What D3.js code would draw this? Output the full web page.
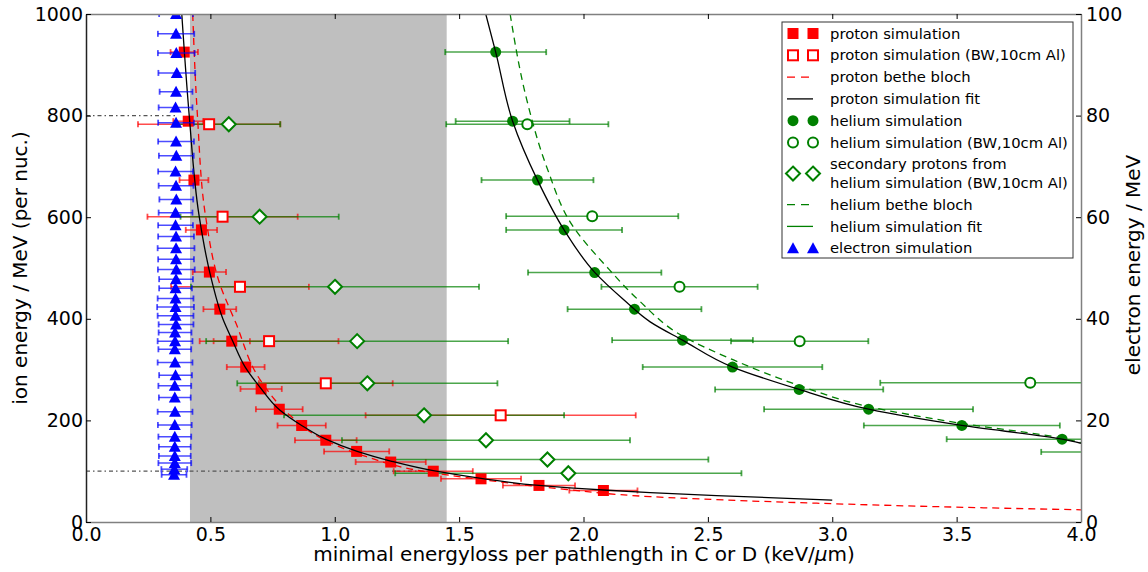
<!DOCTYPE html>
<html><head><meta charset="utf-8">
<script src="https://cdn.jsdelivr.net/npm/d3@7/dist/d3.min.js"></script>
<style>body{margin:0;background:#fff} text{font-family:"DejaVu Sans",sans-serif;fill:#000}</style>
</head><body>
<svg id="c" width="1148" height="572"></svg>
<script>
// ---------- data ----------
const xTicks = [0, 0.5, 1.0, 1.5, 2.0, 2.5, 3.0, 3.5, 4.0];
const yLeftTicks = [0, 200, 400, 600, 800, 1000];
const yRightTicks = [0, 20, 40, 60, 80, 100];
const xLabel = "minimal energyloss per pathlength in C or D (keV/";
const xLabelMu = "\u03bc";
const xLabelEnd = "m)";
const yLeftLabel = "ion energy / MeV (per nuc.)";
const yRightLabel = "electron energy / MeV";

const bandRange = [0.418, 1.45];
const guideE = [800, 100];
const guideEnd = [0.37, 1.39];

const protonE   = [925,789,673,575,492,419,356,305,262,222,190,161,139,118,100,85,72,62];
const protonX   = [0.395,0.411,0.434,0.464,0.496,0.538,0.586,0.642,0.704,0.777,0.867,0.964,1.088,1.225,1.396,1.588,1.821,2.080];
const protonErr = [0.055,0.060,0.058,0.063,0.067,0.066,0.073,0.076,0.083,0.094,0.097,0.124,0.131,0.141,0.159,0.161,0.145,0.137];

const protonBWE   = [783,601,463,356,273,210];
const protonBWX   = [0.495,0.549,0.619,0.736,0.964,1.667];
const protonBWErr = [0.286,0.302,0.277,0.279,0.269,0.543];

const secE   = [783,601,463,356,273,210,161,123,96];
const secX   = [0.574,0.698,1.001,1.090,1.131,1.359,1.608,1.855,1.939];
const secErr = [0.207,0.318,0.579,0.607,0.523,0.563,0.579,0.647,0.696];

const heliumE   = [925,789,673,575,491,419,358,305,261,222,190,163,138];
const heliumX   = [1.647,1.715,1.815,1.922,2.045,2.205,2.398,2.599,2.867,3.146,3.521,3.924,4.33];
const heliumErr = [0.203,0.229,0.225,0.233,0.268,0.269,0.283,0.361,0.338,0.420,0.394,0.464,0.49];

const heliumBWE   = [783,602,463,356,274];
const heliumBWX   = [1.774,2.035,2.386,2.869,3.796];
const heliumBWErr = [0.326,0.346,0.314,0.276,0.603];

const electronE = [100,96.1,92.3,88.4,84.7,81.6,78.6,74.9,72.1,69.0,66.2,63.5,60.9,58.4,56.2,53.9,51.7,49.7,47.8,46.0,44.0,42.3,40.6,38.9,37.3,35.6,34.0,31.4,28.9,26.8,24.5,21.7,19.1,16.8,14.8,13.0,11.6,10.4,9.3];
const electronX = [0.362,0.362,0.363,0.365,0.362,0.360,0.362,0.362,0.363,0.360,0.362,0.363,0.360,0.360,0.362,0.362,0.362,0.363,0.362,0.360,0.360,0.360,0.360,0.362,0.358,0.358,0.357,0.358,0.360,0.357,0.357,0.358,0.357,0.357,0.357,0.357,0.357,0.355,0.354];
const electronErr = [0.068,0.073,0.074,0.074,0.066,0.068,0.072,0.072,0.070,0.070,0.070,0.068,0.068,0.070,0.072,0.074,0.072,0.074,0.068,0.066,0.072,0.074,0.072,0.070,0.066,0.070,0.066,0.070,0.066,0.066,0.064,0.070,0.068,0.066,0.064,0.064,0.066,0.052,0.050];

const protonFitX = [0.385,0.415,0.454,0.505,0.55,0.59,0.64,0.70,0.78,0.867,0.964,1.09,1.225,1.396,1.588,1.821,2.08,2.268,2.535,3.0];
const protonFitE = [1000,800,605,476,400,356,305,265,220,190,163,139,120,101,86,72,63,58,52,43];

const protonBBX = [0.429,0.448,0.481,0.537,0.603,0.70,0.82,0.934,1.128,1.33,1.598,1.933,2.268,2.938,3.608,4.0];
const protonBBE = [1000,800,601,470,391,280,210,168,128.5,102,83,64,50,37,28,24];

const heliumBBX = [1.705,1.772,1.852,1.959,2.094,2.221,2.402,2.603,2.871,3.139,3.521,3.924,4.0];
const heliumBBE = [1000,831,699,581,502,437,365,319,268,228,194,165,156];

const heliumFitX = [1.607,1.647,1.715,1.815,1.922,2.045,2.163,2.268,2.398,2.599,2.867,3.146,3.521,3.924,4.0];
const heliumFitE = [1000,925,789,673,575,491.5,437,394,358,305,261,222,190,163,155];

const legendLabels = [
  ["proton simulation"],
  ["proton simulation (BW,10cm Al)"],
  ["proton bethe bloch"],
  ["proton simulation fit"],
  ["helium simulation"],
  ["helium simulation (BW,10cm Al)"],
  ["secondary protons from", "helium simulation (BW,10cm Al)"],
  ["helium bethe bloch"],
  ["helium simulation fit"],
  ["electron simulation"]
];
const legendKinds = ["sq","osq","rdash","kline","circ","ocirc","dia","gdash","gline","tri"];

// ---------- layout ----------
const L = 86, R = 1081, T = 14, B = 522;
const RED = "#ff0000", GREEN = "#008000", BLUE = "#0000ff";
const svg = d3.select("#c");
const x = d3.scaleLinear().domain([0, 4]).range([L, R]);
const yL = d3.scaleLinear().domain([0, 1000]).range([B, T]);
const yR = d3.scaleLinear().domain([0, 100]).range([B, T]);

svg.append("defs").append("clipPath").attr("id", "clip")
  .append("rect").attr("x", L).attr("y", T).attr("width", R - L).attr("height", B - T);

const plot = svg.append("g").attr("clip-path", "url(#clip)");

// gray band
plot.append("rect").attr("x", x(bandRange[0])).attr("y", T)
  .attr("width", x(bandRange[1]) - x(bandRange[0])).attr("height", B - T)
  .attr("fill", "#bfbfbf");

// guides
guideE.forEach((e, i) => {
  plot.append("line").attr("x1", x(0)).attr("x2", x(guideEnd[i]))
    .attr("y1", yL(e)).attr("y2", yL(e))
    .attr("stroke", "#555").attr("stroke-width", 1.2).attr("stroke-dasharray", "4,3,1.5,3");
});

// markers
const shapes = {
  sq: (g, c) => g.append("rect").attr("x", -5.5).attr("y", -5.5).attr("width", 11).attr("height", 11).attr("fill", c),
  osq: (g, c) => g.append("rect").attr("x", -5).attr("y", -5).attr("width", 10).attr("height", 10).attr("fill", "#fff").attr("stroke", c).attr("stroke-width", 2),
  circ: (g, c) => g.append("circle").attr("r", 5.5).attr("fill", c),
  ocirc: (g, c) => g.append("circle").attr("r", 5).attr("fill", "#fff").attr("stroke", c).attr("stroke-width", 2),
  dia: (g, c) => g.append("path").attr("d", "M0,-7L7,0L0,7L-7,0Z").attr("fill", "#fff").attr("stroke", c).attr("stroke-width", 2),
  tri: (g, c) => g.append("path").attr("d", "M0,-6L6,5L-6,5Z").attr("fill", c)
};

function errbars(X, Y, E, ys, color) {
  const g = plot.append("g").attr("stroke", color).attr("stroke-opacity", 0.7);
  X.forEach((v, i) => {
    const yy = ys(Y[i]), x1 = x(v - E[i]), x2 = x(v + E[i]);
    g.append("line").attr("x1", x1).attr("x2", x2).attr("y1", yy).attr("y2", yy).attr("stroke-width", 1.5);
    [x1, x2].forEach(xc => g.append("line").attr("x1", xc).attr("x2", xc)
      .attr("y1", yy - 3).attr("y2", yy + 3).attr("stroke-width", 1.8));
  });
}
function markers(X, Y, ys, kind, color) {
  X.forEach((v, i) => {
    const g = plot.append("g").attr("transform", `translate(${x(v)},${ys(Y[i])})`);
    shapes[kind](g, color);
  });
}

errbars(protonX, protonE, protonErr, yL, RED);
errbars(protonBWX, protonBWE, protonBWErr, yL, RED);
errbars(secX, secE, secErr, yL, GREEN);
errbars(heliumX, heliumE, heliumErr, yL, GREEN);
errbars(heliumBWX, heliumBWE, heliumBWErr, yL, GREEN);

markers(protonX, protonE, yL, "sq", RED);
markers(protonBWX, protonBWE, yL, "osq", RED);
markers(secX, secE, yL, "dia", GREEN);
markers(heliumX, heliumE, yL, "circ", GREEN);
markers(heliumBWX, heliumBWE, yL, "ocirc", GREEN);

// curves
function curve(X, Y, color, dash) {
  const line = d3.line().x(d => x(d[0])).y(d => yL(d[1])).curve(d3.curveMonotoneY);
  const p = plot.append("path").datum(X.map((v, i) => [v, Y[i]]))
    .attr("d", line).attr("fill", "none").attr("stroke", color).attr("stroke-width", 1.3);
  if (dash) p.attr("stroke-dasharray", dash);
}
curve(protonBBX, protonBBE, RED, "7,5");
curve(heliumBBX, heliumBBE, GREEN, "7,5");
curve(protonFitX, protonFitE, "#000", null);
curve(heliumFitX, heliumFitE, "#000", null);

// electrons on top
errbars(electronX, electronE, electronErr, yR, BLUE);
markers(electronX, electronE, yR, "tri", BLUE);

// ---------- axes ----------
const fs = 19;
const axB = svg.append("g").attr("transform", `translate(0,${B})`)
  .call(d3.axisBottom(x).tickValues(xTicks).tickFormat(d3.format(".1f")).tickSizeInner(-5).tickSizeOuter(0).tickPadding(6));
const axT = svg.append("g").attr("transform", `translate(0,${T})`)
  .call(d3.axisTop(x).tickValues(xTicks).tickFormat("").tickSizeInner(-5).tickSizeOuter(0));
const axL = svg.append("g").attr("transform", `translate(${L},0)`)
  .call(d3.axisLeft(yL).tickValues(yLeftTicks).tickFormat(d3.format("d")).tickSizeInner(-5).tickSizeOuter(0).tickPadding(3));
const axR = svg.append("g").attr("transform", `translate(${R},0)`)
  .call(d3.axisRight(yR).tickValues(yRightTicks).tickFormat(d3.format("d")).tickSizeInner(-5).tickSizeOuter(0).tickPadding(5));
[axB, axT, axL, axR].forEach(a => {
  a.selectAll("text").attr("font-size", fs).attr("font-family", "DejaVu Sans").attr("fill", "#000");
  a.selectAll(".tick line").attr("stroke", "#000");
  a.select(".domain").attr("stroke", "#808080").attr("stroke-width", 1.5);
});
axL.select(".domain").attr("stroke", "#222");

// axis labels
const xl = svg.append("text").attr("x", 584).attr("y", 561).attr("text-anchor", "middle").attr("font-size", 20);
xl.append("tspan").text(xLabel);
xl.append("tspan").attr("font-style", "italic").text(xLabelMu);
xl.append("tspan").text(xLabelEnd);

svg.append("text").attr("transform", `translate(27,${(T + B) / 2}) rotate(-90)`)
  .attr("text-anchor", "middle").attr("font-size", 20).text(yLeftLabel);
svg.append("text").attr("transform", `translate(1140,${(T + B) / 2 - 3}) rotate(-90)`)
  .attr("text-anchor", "middle").attr("font-size", 20).text(yRightLabel);

// ---------- legend ----------
const lg = svg.append("g");
lg.append("rect").attr("x", 782).attr("y", 22).attr("width", 291).attr("height", 236)
  .attr("fill", "#fff").attr("stroke", "#333").attr("stroke-width", 1);
let ly = 33.5;
const rowH = 21.8;
legendLabels.forEach((lab, i) => {
  const extra = (lab.length - 1) * 18.5;
  const cy = ly + extra / 2;
  const kind = legendKinds[i];
  const colorOf = {sq: RED, osq: RED, circ: GREEN, ocirc: GREEN, dia: GREEN, tri: BLUE};
  if (shapes[kind]) {
    [793, 813].forEach(mx => shapes[kind](lg.append("g").attr("transform", `translate(${mx},${cy})`), colorOf[kind]));
  } else {
    const col = kind === "rdash" ? RED : kind === "kline" ? "#000" : GREEN;
    const ln = lg.append("line").attr("x1", 787).attr("x2", 813).attr("y1", cy).attr("y2", cy)
      .attr("stroke", col).attr("stroke-width", 1.3);
    if (kind.endsWith("dash")) ln.attr("stroke-dasharray", "8,6");
  }
  lab.forEach((t, j) => {
    lg.append("text").attr("x", 830).attr("y", ly + j * 18.5).attr("dy", "0.35em")
      .attr("font-size", 14.8).text(t);
  });
  ly += rowH + extra;
});
</script>
</body></html>
